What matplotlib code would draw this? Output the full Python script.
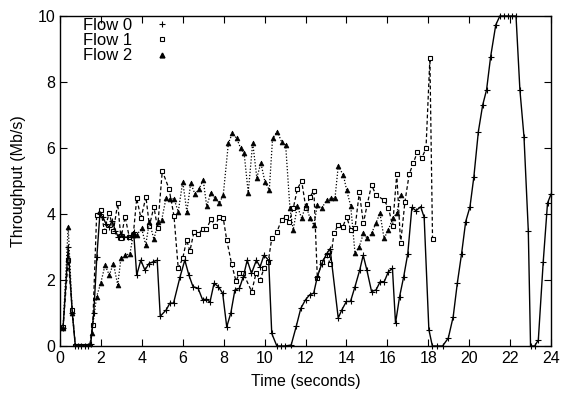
import matplotlib
matplotlib.use('Agg')
import matplotlib.pyplot as plt
from matplotlib.lines import Line2D

plt.rcParams['font.family'] = ['Liberation Sans', 'DejaVu Sans']

# Flow 0 (solid, +)
t0 = [0.15, 0.4, 0.6, 0.75, 0.9, 1.05, 1.2, 1.35, 1.5, 1.65, 1.8, 1.95, 2.1, 2.25, 2.4, 2.55,
      2.7, 2.85, 3.0, 3.15, 3.3, 3.45, 3.6, 3.75, 3.95, 4.15, 4.35, 4.55, 4.75, 4.9, 5.2, 5.37,
      5.55, 5.87, 6.1, 6.3, 6.5, 6.75, 6.97, 7.16, 7.33, 7.53, 7.74, 7.95, 8.15, 8.35, 8.55, 8.77,
      8.96, 9.15, 9.36, 9.6, 9.78, 9.97, 10.2, 10.35, 10.6, 10.8, 11.0, 11.3, 11.55, 11.77, 12.0,
      12.2, 12.4, 12.58, 12.8, 13.04, 13.2, 13.6, 13.78, 14.0, 14.2, 14.42, 14.65, 14.82, 15.0,
      15.23, 15.45, 15.65, 15.85, 16.05, 16.25, 16.4, 16.6, 16.8, 17.0, 17.2, 17.4, 17.63, 17.8,
      18.03, 18.2, 18.45, 18.7, 18.98, 19.22, 19.42, 19.63, 19.83, 20.04, 20.23, 20.45, 20.66,
      20.85, 21.05, 21.3, 21.5, 21.7, 21.9, 22.1, 22.29, 22.48, 22.68, 22.89, 23.0, 23.2, 23.38,
      23.62, 23.83, 24.0]
flow0 = [0.55, 3.0, 1.0, 0, 0, 0, 0, 0, 0.05, 1.0, 2.7, 4.0, 3.9, 3.7, 3.6, 3.8,
         3.5, 3.3, 3.4, 3.3, 3.3, 3.3, 3.45, 2.15, 2.6, 2.3, 2.5, 2.55, 2.6, 0.9, 1.1, 1.3,
         1.3, 2.1, 2.6, 2.15, 1.8, 1.75, 1.4, 1.42, 1.33, 1.9, 1.8, 1.6, 0.58, 1.0, 1.7, 1.75,
         2.1, 2.6, 2.2, 2.6, 2.4, 2.75, 2.6, 0.38, 0, 0, 0, 0.03, 0.6, 1.14, 1.4,
         1.55, 1.6, 2.1, 2.5, 2.8, 2.95, 0.85, 1.1, 1.35, 1.35, 1.8, 2.3, 2.75, 2.3,
         1.65, 1.7, 1.95, 1.95, 2.25, 2.35, 0.69, 1.5, 2.1, 2.8, 4.2, 4.1, 4.22, 3.9,
         0.5, 0, 0, 0, 0.24, 0.89, 1.9, 2.8, 3.77, 4.22, 5.13, 6.5, 7.3,
         7.76, 8.77, 9.73, 10, 10, 10, 10, 10, 7.76, 6.34, 3.5, 0, 0, 0.18,
         2.55, 4.33, 4.6]

# Flow 1 (dashed, squares)
t1 = [0.15, 0.4, 0.6, 0.75, 0.9, 1.05, 1.2, 1.35, 1.45, 1.6, 1.79, 1.99, 2.17, 2.41, 2.61, 2.82,
      2.98, 3.18, 3.39, 3.58, 3.75, 3.96, 4.2, 4.37, 4.59, 4.77, 5.0, 5.33, 5.57, 5.78, 6.0, 6.19,
      6.35, 6.55, 6.76, 6.97, 7.16, 7.38, 7.58, 7.79, 7.98, 8.15, 8.39, 8.6, 8.77, 8.96, 9.37,
      9.58, 9.78, 9.97, 10.18, 10.35, 10.59, 10.83, 11.05, 11.21, 11.4, 11.6, 11.81, 12.02,
      12.22, 12.41, 12.58, 12.79, 13.03, 13.2, 13.39, 13.6, 13.82, 14.01, 14.21, 14.42, 14.63,
      14.83, 15.02, 15.23, 15.44, 15.84, 16.05, 16.26, 16.46, 16.65, 16.86, 17.07, 17.27, 17.46,
      17.68, 17.89, 18.08, 18.21]
flow1 = [0.57, 2.6, 1.1, 0, 0, 0, 0, 0, 0, 0.64, 3.97, 4.12, 3.49, 4.04, 3.49, 4.32,
         3.26, 3.92, 3.29, 3.36, 4.47, 3.87, 4.52, 3.64, 4.22, 3.57, 5.31, 4.76, 3.95, 2.35, 2.66, 3.21,
         2.88, 3.46, 3.38, 3.55, 3.55, 3.84, 3.64, 3.92, 3.87, 3.21, 2.48, 1.97, 2.2, 2.2, 1.65,
         2.2, 2.0, 2.35, 2.56, 3.26, 3.44, 3.82, 3.92, 3.77, 4.17, 4.75, 5.01, 4.17,
         4.52, 4.71, 2.05, 2.54, 2.76, 2.5, 3.41, 3.67, 3.6, 3.92, 3.52, 3.57, 4.66,
         3.72, 4.3, 4.88, 4.58, 4.42, 4.19, 3.65, 5.2, 3.11, 4.37, 5.21, 5.54, 5.87,
         5.69, 5.99, 8.72, 3.23]

# Flow 2 (dotted, triangles)
t2 = [0.15, 0.4, 0.6, 0.75, 0.9, 1.05, 1.2, 1.35, 1.45, 1.55, 1.79, 1.99, 2.2, 2.41, 2.61, 2.82,
      2.98, 3.2, 3.42, 3.58, 3.75, 3.99, 4.19, 4.37, 4.59, 4.8, 4.97, 5.18, 5.37, 5.57, 5.78, 6.0,
      6.2, 6.39, 6.6, 6.8, 7.0, 7.17, 7.38, 7.58, 7.79, 7.98, 8.23, 8.42, 8.63, 8.83, 9.0, 9.2,
      9.42, 9.62, 9.82, 10.02, 10.23, 10.39, 10.62, 10.83, 11.03, 11.24, 11.4, 11.6, 11.81, 12.02,
      12.22, 12.41, 12.58, 12.79, 13.03, 13.24, 13.44, 13.6, 13.85, 14.01, 14.21, 14.42, 14.63,
      14.83, 15.02, 15.23, 15.44, 15.64, 15.84, 16.05, 16.26, 16.46, 16.65]
flow2 = [0.55, 3.62, 1.0, 0, 0, 0, 0, 0, 0, 0.38, 1.5, 1.9, 2.45, 2.15, 2.5, 1.85,
         2.66, 2.75, 2.8, 3.36, 3.36, 3.57, 3.06, 3.77, 3.23, 3.77, 3.82, 4.47, 4.45, 4.46, 4.07, 4.98,
         4.07, 4.93, 4.6, 4.76, 5.03, 4.24, 4.65, 4.48, 4.33, 4.58, 6.14, 6.44, 6.3, 5.99, 5.84, 4.65,
         6.16, 5.1, 5.54, 4.97, 4.73, 6.29, 6.5, 6.19, 6.09, 4.17, 3.52, 4.24, 3.87, 4.27,
         3.87, 3.67, 4.27, 4.17, 4.42, 4.47, 4.47, 5.45, 5.18, 4.73, 4.24, 2.81, 3.01,
         3.41, 3.26, 3.41, 3.72, 4.02, 3.26, 3.52, 3.87, 4.02, 4.58]

labels = ['Flow 0', 'Flow 1', 'Flow 2']
xticks = list(range(0, 25, 2))
yticks = list(range(0, 11, 2))

assert len(t0) == len(flow0) and len(t1) == len(flow1) and len(t2) == len(flow2)

fig = plt.figure(figsize=(5.61, 3.99), dpi=100)
ax = fig.add_axes([60 / 561, 53 / 399, 491 / 561, 330 / 399])

ax.plot(t0, flow0, color='black', linestyle='-', linewidth=1.0,
        marker='+', markersize=4, markeredgewidth=0.8, clip_on=False, zorder=3)
ax.plot(t1, flow1, color='black', linestyle=(0, (3, 2)), linewidth=0.9,
        marker='s', markersize=3.3, markerfacecolor='white', markeredgewidth=0.8, zorder=2)
ax.plot(t2, flow2, color='black', linestyle=(0, (1, 1.5)), linewidth=0.9,
        marker='^', markersize=3.5, markeredgewidth=0.5, zorder=2)

ax.set_xlim(0, 24)
ax.set_ylim(0, 10)
ax.set_xticks(xticks)
ax.set_yticks(yticks)
ax.tick_params(direction='in', top=True, right=True, length=5, width=0.8, labelsize=11.5)
for s in ax.spines.values():
    s.set_linewidth(1.0)

ax.set_xlabel('Time (seconds)', fontsize=11.5, labelpad=6)
ax.set_ylabel('Throughput (Mb/s)', fontsize=11.5, labelpad=8)

handles = [
    Line2D([], [], linestyle='none', color='black', marker='+', markersize=4, markeredgewidth=0.8),
    Line2D([], [], linestyle='none', color='black', marker='s', markersize=3.3,
           markerfacecolor='white', markeredgewidth=0.8),
    Line2D([], [], linestyle='none', color='black', marker='^', markersize=3.5),
]
ax.legend(handles, labels, loc='upper left', bbox_to_anchor=(0.02, 1.035), frameon=False,
          markerfirst=False, fontsize=12, handlelength=2, handletextpad=0.8,
          labelspacing=0.02, borderpad=0.3)

fig.savefig('out.png', dpi=100)
